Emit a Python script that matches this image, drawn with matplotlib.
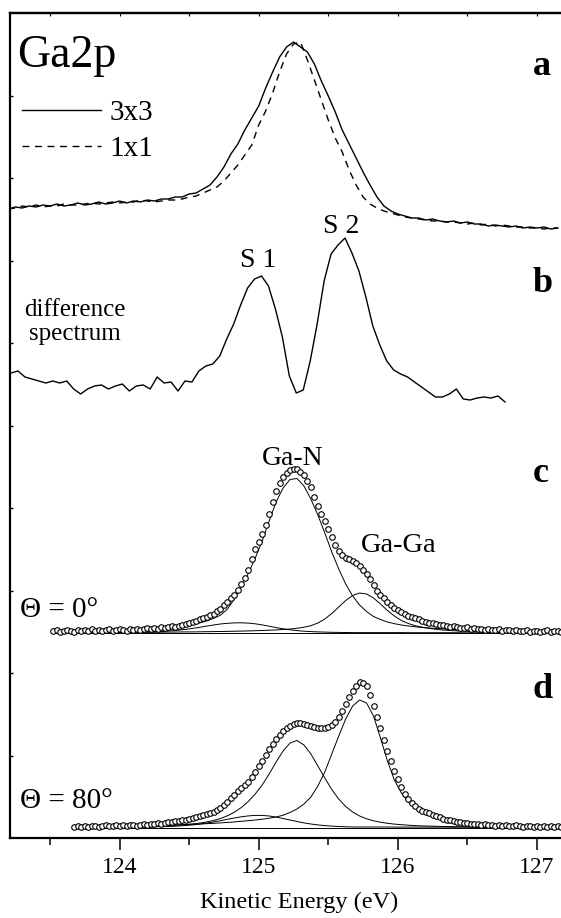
#!/usr/bin/env python3
"""Ga 2p core-level spectra: 3x3 vs 1x1, difference spectrum and fits at two emission angles."""
import matplotlib

matplotlib.use("Agg")
import matplotlib.pyplot as plt
import numpy as np
from matplotlib.ticker import MultipleLocator

plt.rcParams["font.family"] = ["Liberation Serif", "DejaVu Serif"]

# All intensities are in arbitrary units with the stacking offsets already applied.
# Each series sits on a regular energy grid: start energy and channel step (eV).

# (a) raw spectra of the two reconstructions
A_E0, A_STEP = 123.20, 0.05
A_3X3 = [
    629, 631, 630, 632, 631, 633, 632, 634, 632, 633,
    635, 633, 634, 636, 634, 635, 637, 635, 637, 636,
    638, 637, 639, 639, 641, 641, 644, 645, 649, 653,
    661, 671, 684, 694, 708, 720, 732, 750, 766, 781,
    791, 796, 791, 786, 774, 757, 742, 726, 708, 694,
    680, 666, 653, 641, 632, 627, 624, 622, 620, 620,
    618, 619, 617, 616, 617, 615, 616, 614, 614, 612,
    613, 612, 611, 612, 610, 611, 610, 611, 609, 610,
]
A_1X1 = [
    629, 630, 632, 631, 633, 631, 632, 632, 634, 633,
    633, 634, 635, 634, 635, 636, 635, 636, 636, 638,
    637, 636, 637, 638, 638, 639, 641, 642, 645, 648,
    651, 657, 665, 673, 683, 693, 713, 727, 745, 766,
    784, 794, 796, 778, 758, 738, 718, 700, 686, 668,
    653, 641, 634, 630, 627, 625, 623, 621, 620, 619,
    618, 617, 617, 616, 616, 615, 614, 615, 613, 614,
    612, 613, 612, 611, 611, 610, 610, 609, 610, 610,
]

# (b) difference spectrum 3x3 - 1x1
B_E0, B_STEP = 123.22, 0.05
B_DIFF = [
    465, 467, 461, 459, 457, 455, 457, 455, 457, 449,
    444, 449, 452, 453, 449, 452, 454, 447, 452, 453,
    449, 461, 455, 456, 447, 457, 456, 467, 472, 474,
    482, 499, 514, 533, 550, 559, 562, 552, 529, 501,
    462, 445, 448, 477, 514, 557, 584, 593, 600, 585,
    567, 541, 512, 493, 477, 468, 464, 461, 456, 451,
    446, 441, 441, 444, 449, 439, 438, 440, 441, 440,
    442, 436,
]

# (c) normal emission, measured points and fit components
C_E0, C_STEP = 123.525, 0.025
C_DATA = [
    207, 208, 206, 207, 208, 207, 206, 208, 207, 208,
    207, 209, 207, 208, 207, 208, 209, 207, 208, 209,
    208, 207, 209, 208, 209, 208, 209, 210, 209, 210,
    209, 211, 210, 211, 212, 211, 212, 213, 214, 215,
    216, 217, 219, 220, 221, 223, 224, 227, 229, 233,
    236, 240, 243, 248, 254, 260, 268, 279, 289, 296,
    304, 313, 324, 336, 347, 355, 361, 365, 368, 369,
    369, 366, 363, 357, 351, 341, 332, 324, 317, 309,
    301, 293, 287, 283, 280, 279, 277, 275, 272, 268,
    264, 259, 253, 247, 243, 240, 236, 233, 230, 228,
    226, 224, 222, 221, 220, 219, 217, 216, 215, 215,
    214, 213, 213, 212, 211, 212, 211, 210, 210, 211,
    209, 210, 209, 209, 208, 209, 208, 208, 209, 207,
    208, 208, 207, 208, 207, 207, 208, 206, 207, 207,
    206, 207, 208, 206, 207, 207, 206, 207,
]
C_FIT_E0, C_FIT_STEP = 123.525, 0.05
C_GAN = [
    205.8, 205.9, 206.0, 206.1, 206.2, 206.3, 206.5, 206.6, 206.8, 207.0,
    207.2, 207.5, 207.8, 208.1, 208.5, 209.0, 209.6, 210.3, 211.1, 212.1,
    213.4, 215.0, 217.0, 219.6, 222.8, 229.0, 239.0, 251.0, 264.5, 280.0,
    297.0, 317.0, 336.0, 350.0, 358.5, 359.5, 352.0, 339.0, 323.0, 305.0,
    286.0, 269.0, 254.0, 242.0, 233.0, 226.5, 221.5, 218.5, 216.0, 214.3,
    213.0, 212.0, 211.2, 210.5, 210.0, 209.5, 209.1, 208.7, 208.4, 208.1,
    207.9, 207.6, 207.4, 207.2, 207.1, 206.9, 206.8, 206.7, 206.6, 206.5,
    206.4, 206.3, 206.2, 206.1,
]
C_GAGA = [
    205.3, 205.3, 205.3, 205.4, 205.4, 205.4, 205.5, 205.5, 205.5, 205.6,
    205.6, 205.6, 205.7, 205.7, 205.8, 205.8, 205.9, 205.9, 206.0, 206.1,
    206.1, 206.2, 206.3, 206.4, 206.5, 206.6, 206.8, 206.9, 207.1, 207.3,
    207.5, 207.8, 208.1, 208.5, 209.0, 209.7, 210.8, 212.3, 215.0, 219.0,
    224.5, 231.0, 237.5, 242.5, 245.0, 244.0, 240.0, 234.0, 227.5, 222.0,
    217.5, 214.5, 212.3, 210.8, 209.6, 208.7, 208.0, 207.5, 207.1, 206.8,
    206.5, 206.3, 206.2, 206.1, 206.0, 205.9, 205.9, 205.8, 205.8, 205.7,
    205.7, 205.7, 205.6, 205.6,
]
C_LOW = [
    205.0, 205.0, 205.1, 205.1, 205.1, 205.2, 205.2, 205.3, 205.3, 205.4,
    205.5, 205.6, 205.7, 205.8, 206.0, 206.3, 206.7, 207.2, 207.8, 208.6,
    209.6, 210.7, 211.9, 213.0, 214.0, 214.7, 215.1, 215.2, 214.9, 214.2,
    213.1, 211.8, 210.4, 209.2, 208.2, 207.4, 206.8, 206.4, 206.1, 205.9,
    205.7, 205.6, 205.5, 205.4, 205.4, 205.4, 205.4, 205.4, 205.4, 205.4,
    205.4, 205.3, 205.3, 205.3, 205.3, 205.3, 205.3, 205.3, 205.3, 205.2,
    205.2, 205.2, 205.2, 205.2, 205.2, 205.2, 205.2, 205.1, 205.1, 205.1,
    205.1, 205.1, 205.1, 205.1,
]
C_BG = 205.0

# (d) grazing emission, measured points and fit components
D_E0, D_STEP = 123.675, 0.025
D_DATA = [
    11, 12, 11, 12, 11, 12, 12, 11, 12, 13,
    12, 12, 13, 12, 13, 12, 13, 13, 12, 13,
    14, 13, 14, 14, 15, 14, 15, 16, 16, 17,
    17, 18, 18, 19, 20, 21, 22, 23, 24, 25,
    26, 28, 30, 33, 36, 40, 43, 47, 50, 53,
    56, 61, 66, 72, 77, 83, 89, 94, 99, 103,
    107, 110, 112, 114, 115, 115, 114, 113, 112, 111,
    110, 110, 110, 111, 113, 116, 121, 127, 134, 141,
    147, 152, 156, 155, 152, 143, 132, 121, 110, 98,
    87, 77, 67, 59, 51, 44, 39, 35, 32, 29,
    27, 26, 25, 23, 22, 21, 19, 18, 18, 17,
    16, 16, 15, 15, 14, 14, 14, 13, 14, 13,
    13, 12, 13, 12, 13, 12, 12, 13, 12, 11,
    12, 12, 11, 12, 11, 12, 11, 12, 11, 12,
    11, 12,
]
D_FIT_E0, D_FIT_STEP = 123.675, 0.05
D_GAN = [
    10.7, 10.7, 10.8, 10.8, 10.9, 11.0, 11.1, 11.2, 11.3, 11.4,
    11.6, 11.8, 12.0, 12.3, 12.6, 13.0, 13.5, 14.1, 14.9, 16.0,
    17.5, 19.5, 22.2, 25.8, 30.5, 36.5, 44.0, 53.0, 64.0, 76.0,
    87.0, 95.0, 97.5, 93.0, 84.0, 72.0, 60.0, 48.5, 39.0, 31.5,
    26.0, 22.0, 19.2, 17.2, 15.8, 14.7, 13.9, 13.3, 12.8, 12.4,
    12.1, 11.9, 11.7, 11.5, 11.4, 11.3, 11.2, 11.1, 11.0, 11.0,
    10.9, 10.9, 10.8, 10.8, 10.8, 10.7, 10.7, 10.7, 10.6, 10.6,
    10.6,
]
D_GAGA = [
    11.2, 11.3, 11.3, 11.4, 11.5, 11.6, 11.7, 11.8, 11.9, 12.0,
    12.2, 12.3, 12.5, 12.7, 12.9, 13.1, 13.4, 13.7, 14.0, 14.3,
    14.7, 15.1, 15.6, 16.1, 16.7, 17.3, 18.0, 18.8, 19.8, 21.0,
    22.8, 25.5, 29.0, 34.0, 41.0, 52.0, 66.0, 84.0, 102.0, 119.0,
    132.0, 138.0, 135.0, 122.0, 100.0, 77.0, 58.0, 45.0, 36.0, 30.0,
    26.0, 22.5, 20.0, 18.2, 16.8, 15.7, 14.9, 14.2, 13.7, 13.3,
    12.9, 12.6, 12.4, 12.2, 12.0, 11.9, 11.8, 11.7, 11.6, 11.5,
    11.4,
]
D_LOW = [
    10.6, 10.6, 10.6, 10.7, 10.7, 10.8, 10.8, 10.9, 10.9, 11.0,
    11.1, 11.2, 11.3, 11.4, 11.6, 12.0, 12.5, 13.1, 13.9, 14.9,
    16.0, 17.3, 18.7, 20.0, 21.2, 22.1, 22.6, 22.6, 22.0, 20.9,
    19.5, 18.0, 16.5, 15.1, 14.0, 13.1, 12.4, 11.9, 11.5, 11.2,
    11.0, 11.0, 11.0, 11.0, 11.0, 11.0, 10.9, 10.9, 10.9, 10.9,
    10.9, 10.9, 10.9, 10.9, 10.8, 10.8, 10.8, 10.8, 10.8, 10.8,
    10.8, 10.8, 10.7, 10.7, 10.7, 10.7, 10.7, 10.7, 10.7, 10.7,
    10.7,
]
D_BG = 10.5

X_MAJOR = [124, 125, 126, 127]


def grid(e0, step, values):
    return e0 + step * np.arange(len(values))


def main() -> None:
    fig = plt.figure(figsize=(5.61, 9.18), dpi=100)
    # right edge of the frame runs past the figure border
    ax = fig.add_axes([10 / 561, 80 / 918, 565 / 561, 825 / 918])
    ax.set_xlim(123.2125, 127.273)
    ax.set_ylim(0, 825)

    # (a)
    l3, = ax.plot(grid(A_E0, A_STEP, A_3X3), A_3X3, color="black", lw=1.0)
    l1, = ax.plot(grid(A_E0, A_STEP, A_1X1), A_1X1, color="black", lw=1.0,
                  ls=(0, (5, 4)))
    ax.legend([l3, l1], ["3x3", "1x1"], loc="upper left",
              bbox_to_anchor=(0.0212, 0.8945), frameon=False, fontsize=21,
              borderpad=0, borderaxespad=0, handlelength=2.7,
              handletextpad=0.3, labelspacing=0.32)

    # (b)
    ax.plot(grid(B_E0, B_STEP, B_DIFF), B_DIFF, color="black", lw=1.0)

    # (c) and (d): components, background, then measured points on top
    for e0, step, comps, bg, pts_e0, pts_step, pts in [
        (C_FIT_E0, C_FIT_STEP, (C_GAN, C_GAGA, C_LOW), C_BG, C_E0, C_STEP, C_DATA),
        (D_FIT_E0, D_FIT_STEP, (D_GAN, D_GAGA, D_LOW), D_BG, D_E0, D_STEP, D_DATA),
    ]:
        for comp in comps:
            ax.plot(grid(e0, step, comp), comp, color="black", lw=0.7, zorder=2)
        e_fit = grid(e0, step, comps[0])
        ax.hlines(bg, e_fit[0], e_fit[-1], color="black", lw=0.7, zorder=2)
        ax.plot(grid(pts_e0, pts_step, pts), pts, ls="none", marker="o",
                ms=4.0, mfc="white", mec="black", mew=0.8, zorder=3)

    # labels
    ax.text(123.263, 771, "Ga2p", fontsize=33, ha="left", va="baseline")
    for letter, y in [("a", 763), ("b", 546), ("c", 356), ("d", 140)]:
        ax.text(126.971, y, letter, fontsize=26, fontweight="bold",
                ha="left", va="baseline")
    ax.text(124.995, 571, "S 1", fontsize=20, ha="center", va="baseline")
    ax.text(125.59, 605, "S 2", fontsize=20, ha="center", va="baseline")
    ax.text(123.68, 516, "difference\nspectrum", fontsize=18, ha="center",
            va="center", multialignment="center", linespacing=1.1)
    ax.text(125.246, 373, "Ga-N", fontsize=20, ha="center", va="baseline")
    ax.text(125.735, 286, "Ga-Ga", fontsize=20.5, ha="left", va="baseline")
    ax.text(123.284, 221, "\u0398 = 0\u00b0", fontsize=21, ha="left",
            va="baseline")
    ax.text(123.284, 30, "\u0398 = 80\u00b0", fontsize=21, ha="left",
            va="baseline")

    # axes furniture
    for side in ("left", "bottom", "top"):
        ax.spines[side].set_linewidth(1.6)
    ax.spines["right"].set_visible(False)

    ax.set_xticks(X_MAJOR)
    ax.xaxis.set_minor_locator(MultipleLocator(0.5))
    ax.tick_params(axis="x", which="major", direction="out", length=8.5,
                   width=1.1, labelsize=17, pad=5, top=False)
    ax.tick_params(axis="x", which="minor", direction="out", length=4.7,
                   width=1.1, top=False)
    ax.set_yticks(np.arange(82.5, 825, 82.5))
    ax.tick_params(axis="y", which="major", direction="in", length=2.5,
                   width=1.0, labelleft=False, right=False)

    top = ax.secondary_xaxis("top")
    top.set_xticks(X_MAJOR)
    top.xaxis.set_minor_locator(MultipleLocator(0.5))
    top.tick_params(which="both", direction="in", length=2, width=0.8,
                    labeltop=False)
    top.spines["top"].set_linewidth(1.6)

    ax.set_xlabel("Kinetic Energy (eV)", fontsize=17.5)
    ax.xaxis.set_label_coords(0.5115, -0.0655)

    fig.savefig("out.png", dpi=100)
    plt.close(fig)


if __name__ == "__main__":
    main()
